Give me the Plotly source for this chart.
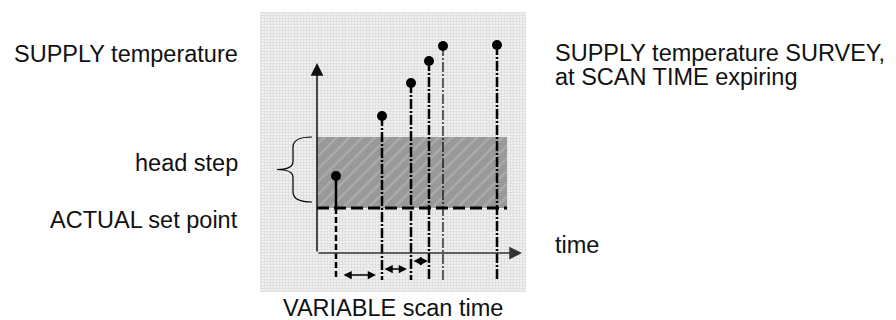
import plotly.graph_objects as go

# schematic data (time to the right of the temperature axis, temperature above the time axis)
scan_times = [19, 65, 94, 112, 126, 180]
supply_temps = [77, 137, 170, 192, 207, 208]
stem_widths = [2.5, 2.5, 2.5, 2.5, 1.2, 2.5]
set_point = 45
head_step_top = 116
band_end = 190
stem_bottom = -27
interval_starts = [25, 66, 95]
interval_ends = [59, 90, 111]
interval_levels = [-22, -16, -8]
time_axis_end = 205
temp_axis_end = 190

FONT = dict(family="Liberation Sans, Arial, sans-serif", size=23.5, color="#111111")

fig = go.Figure()

# dotted screen-tone background of the drawing
bx = [-57, 209, 209, -57, -57]
by = [241, 241, -39, -39, 241]
fig.add_trace(go.Scatter(
    x=bx, y=by, mode="lines", fill="toself", line=dict(width=0),
    fillcolor="white",
    fillpattern=dict(shape=".", bgcolor="#f6f6f6", fgcolor="#bdbdbd", size=3, solidity=0.5),
    hoverinfo="skip"))

# head step band (hatched)
fig.add_trace(go.Scatter(
    x=[0, band_end, band_end, 0, 0],
    y=[head_step_top, head_step_top, set_point, set_point, head_step_top],
    mode="lines", fill="toself", line=dict(width=0),
    fillcolor="#9a9a9a",
    fillpattern=dict(shape="/", bgcolor="#999999", fgcolor="#c0c0c0", size=9, solidity=0.25),
    hoverinfo="skip"))

# stems
for i, (t, v) in enumerate(zip(scan_times, supply_temps)):
    if i == 0:
        fig.add_trace(go.Scatter(x=[t, t], y=[v, set_point], mode="lines",
                                 line=dict(color="black", width=2.5), hoverinfo="skip"))
        fig.add_trace(go.Scatter(x=[t, t], y=[set_point, stem_bottom], mode="lines",
                                 line=dict(color="black", width=2.5, dash="6px,3px"), hoverinfo="skip"))
    else:
        fig.add_trace(go.Scatter(x=[t, t], y=[v, stem_bottom], mode="lines",
                                 line=dict(color="black", width=stem_widths[i], dash="10px,2px,2px,2px"),
                                 hoverinfo="skip"))

# actual set point line
fig.add_trace(go.Scatter(x=[0, band_end], y=[set_point, set_point], mode="lines",
                         line=dict(color="black", width=3, dash="12px,5px"), hoverinfo="skip"))

# survey points
fig.add_trace(go.Scatter(x=scan_times, y=supply_temps, mode="markers",
                         marker=dict(color="black", size=10), hoverinfo="skip"))

# axes with arrows
fig.add_annotation(x=0, y=temp_axis_end, ax=0, ay=0, xref="x", yref="y", axref="x", ayref="y",
                   text="", showarrow=True, arrowhead=2, arrowsize=1.7, arrowwidth=1.5,
                   arrowcolor="#111111", standoff=0)
fig.add_annotation(x=time_axis_end, y=0, ax=0, ay=0, xref="x", yref="y", axref="x", ayref="y",
                   text="", showarrow=True, arrowhead=2, arrowsize=1.7, arrowwidth=1.5,
                   arrowcolor="#333333", standoff=0)

# scan intervals
for s, e, lv in zip(interval_starts, interval_ends, interval_levels):
    fig.add_annotation(x=e, y=lv, ax=s, ay=lv, xref="x", yref="y", axref="x", ayref="y",
                       text="", showarrow=True, arrowhead=2, arrowside="end+start",
                       arrowsize=1.1, arrowwidth=1.5, arrowcolor="black", standoff=0, startstandoff=0)

# brace for head step
mid = (head_step_top + set_point + 6) / 2
brace = (f"M -5,{head_step_top} Q -24,{head_step_top} -24,{head_step_top - 10} "
         f"L -24,{mid + 8} Q -24,{mid} -40,{mid} Q -24,{mid} -24,{mid - 8} "
         f"L -24,{set_point + 16} Q -24,{set_point + 6} -5,{set_point + 6}")
fig.add_shape(type="path", path=brace, xref="x", yref="y", line=dict(color="black", width=1.2))

# labels
fig.add_annotation(x=-77, y=199, text="SUPPLY temperature", xanchor="right", showarrow=False, font=FONT)
fig.add_annotation(x=-77, y=90, text="head step", xanchor="right", showarrow=False, font=FONT)
fig.add_annotation(x=-77, y=33, text="ACTUAL set point", xanchor="right", showarrow=False, font=FONT)
fig.add_annotation(x=236, y=200, text="SUPPLY temperature SURVEY,",
                   xanchor="left", showarrow=False, font=FONT)
fig.add_annotation(x=236, y=176, text="at SCAN TIME expiring",
                   xanchor="left", showarrow=False, font=FONT)
fig.add_annotation(x=236, y=8, text="time", xanchor="left", showarrow=False, font=FONT)
fig.add_annotation(x=76, y=-55, text="VARIABLE scan time", showarrow=False, font=FONT)

fig.update_layout(
    width=896, height=320,
    margin=dict(l=0, r=0, t=0, b=0),
    paper_bgcolor="white", plot_bgcolor="white",
    showlegend=False,
    xaxis=dict(range=[-309, 587], visible=False, fixedrange=True),
    yaxis=dict(range=[-75, 245], visible=False, fixedrange=True),
)

fig.write_html("out.html")
